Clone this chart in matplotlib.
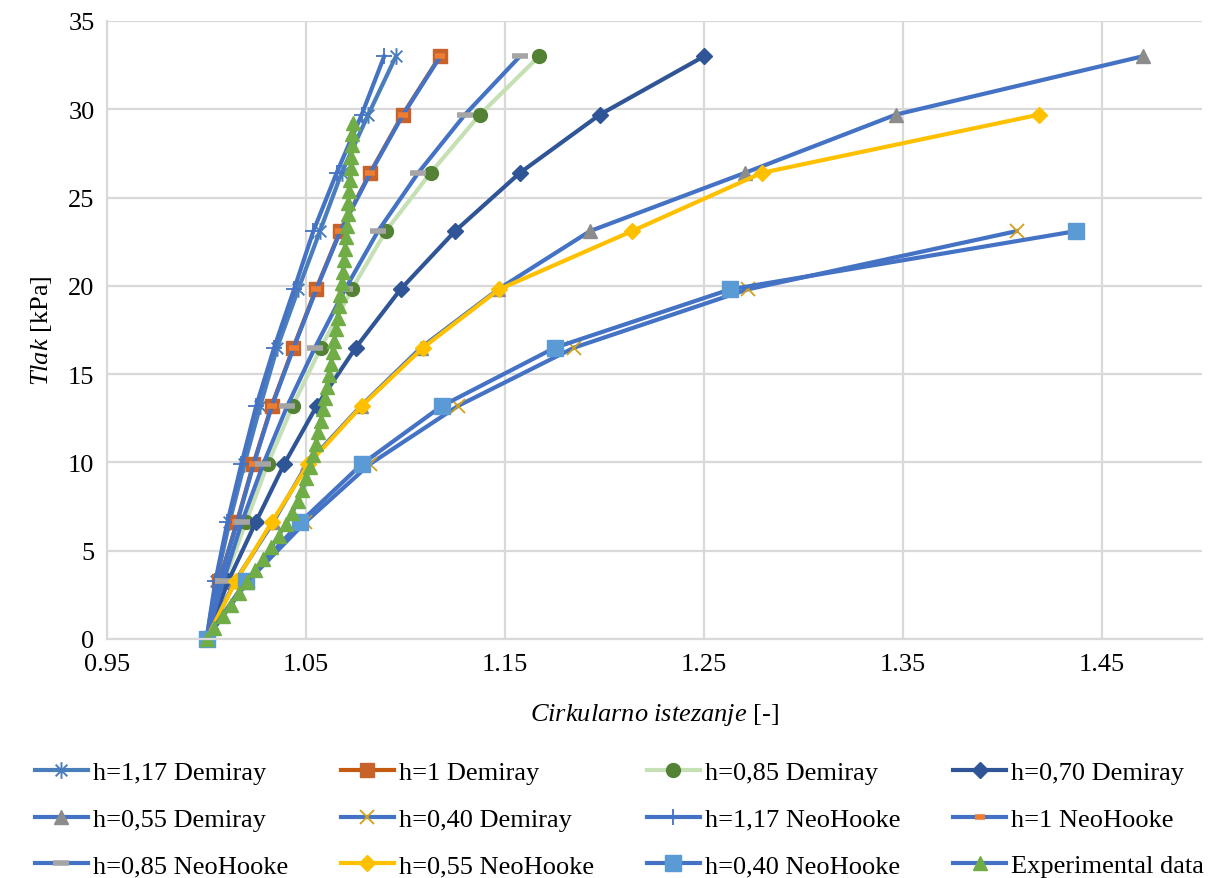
import matplotlib
matplotlib.use("Agg")
import matplotlib.pyplot as plt
from matplotlib.path import Path

plt.rcParams['font.family'] = ['Liberation Serif', 'DejaVu Serif']
plt.rcParams['mathtext.fontset'] = 'custom'
plt.rcParams['mathtext.it'] = 'Liberation Serif:italic'
plt.rcParams['mathtext.rm'] = 'Liberation Serif'

# Pressure levels of the model curves (kPa)
p_model = [0, 3.3, 6.6, 9.9, 13.2, 16.5, 19.8, 23.1, 26.4, 29.7, 33.0]

# Circumferential stretch for each model series
dem_117 = [1.0, 1.0050, 1.0115, 1.0190, 1.0270, 1.0355, 1.0461, 1.0570, 1.0679, 1.0813, 1.0952]
dem_100 = [1.0, 1.0065, 1.0152, 1.0235, 1.0327, 1.0436, 1.0550, 1.0671, 1.0822, 1.0986, 1.1173]
dem_085 = [1.0, 1.0090, 1.0198, 1.0307, 1.0433, 1.0575, 1.0730, 1.0901, 1.1126, 1.1374, 1.1671]
dem_070 = [1.0, 1.0110, 1.0247, 1.0390, 1.0554, 1.0750, 1.0975, 1.1249, 1.1575, 1.1977, 1.2500]
dem_055 = [1.0, 1.0145, 1.0334, 1.0505, 1.0776, 1.1078, 1.1465, 1.1927, 1.2706, 1.3465, 1.4704]
dem_040 = [1.0, 1.0210, 1.0495, 1.0820, 1.1264, 1.1847, 1.2719, 1.4071]
neo_117 = [1.0, 1.0045, 1.0105, 1.0175, 1.0250, 1.0340, 1.0440, 1.0537, 1.0654, 1.0780, 1.0893]
neo_100 = [1.0, 1.0066, 1.0154, 1.0237, 1.0329, 1.0438, 1.0552, 1.0673, 1.0824, 1.0988, 1.1175]
neo_085 = [1.0, 1.0085, 1.0177, 1.0285, 1.0406, 1.0545, 1.0696, 1.0862, 1.1064, 1.1299, 1.1575]
neo_055 = [1.0, 1.0148, 1.0327, 1.0512, 1.0780, 1.1088, 1.1470, 1.2138, 1.2791, 1.4185]
neo_040 = [1.0, 1.0198, 1.0470, 1.0780, 1.1183, 1.1751, 1.2631, 1.4369]

# Experimental data
p_exp = [0.00, 0.65, 1.30, 1.95, 2.60, 3.25, 3.90, 4.55, 5.20, 5.85, 6.50, 7.15,
         7.80, 8.45, 9.10, 9.75, 10.40, 11.05, 11.70, 12.35, 13.00, 13.65, 14.30,
         14.95, 15.60, 16.25, 16.90, 17.55, 18.20, 18.85, 19.50, 20.15, 20.80,
         21.45, 22.10, 22.75, 23.40, 24.05, 24.70, 25.35, 26.00, 26.65, 27.30,
         27.95, 28.60, 29.25]
x_exp = [1.0000, 1.0040, 1.0081, 1.0122, 1.0163, 1.0204, 1.0245, 1.0285, 1.0325,
         1.0362, 1.0398, 1.0430, 1.0458, 1.0482, 1.0502, 1.0519, 1.0534, 1.0548,
         1.0561, 1.0573, 1.0585, 1.0596, 1.0606, 1.0616, 1.0625, 1.0634, 1.0643,
         1.0651, 1.0659, 1.0666, 1.0673, 1.0679, 1.0685, 1.0690, 1.0695, 1.0700,
         1.0705, 1.0709, 1.0713, 1.0717, 1.0721, 1.0724, 1.0727, 1.0730, 1.0733,
         1.0735]

labels = ["h=1,17 Demiray", "h=1 Demiray", "h=0,85 Demiray", "h=0,70 Demiray",
          "h=0,55 Demiray", "h=0,40 Demiray", "h=1,17 NeoHooke", "h=1 NeoHooke",
          "h=0,85 NeoHooke", "h=0,55 NeoHooke", "h=0,40 NeoHooke", "Experimental data"]

# Excel-style asterisk: X plus vertical bar
ast = Path([(-0.7, -0.7), (0.7, 0.7), (-0.7, 0.7), (0.7, -0.7), (0, -1), (0, 1)],
           [Path.MOVETO, Path.LINETO, Path.MOVETO, Path.LINETO, Path.MOVETO, Path.LINETO])

BLUE = '#4472C4'
series = [
    (dem_117, p_model, dict(color='#4A7EBB', marker=ast, ms=12, mew=1.4, mfc='#4A7EBB', mec='#4A7EBB')),
    (dem_100, p_model, dict(color='#C55A11', marker='s', ms=10, mfc='#C8622B', mec='#C8622B')),
    (dem_085, p_model, dict(color='#C5E0B4', marker='o', ms=10, mfc='#548235', mec='#548235')),
    (dem_070, p_model, dict(color='#2F5597', marker='D', ms=8, mfc='#2F5597', mec='#2F5597')),
    (dem_055, p_model, dict(color=BLUE, marker='^', ms=10, mfc='#8C8C8C', mec='#8C8C8C')),
    (dem_040, p_model[:8], dict(color=BLUE, marker='x', ms=10, mew=1.3, mfc='#D4A017', mec='#D4A017')),
    (neo_117, p_model, dict(color=BLUE, marker='+', ms=12, mew=1.3, mfc=BLUE, mec=BLUE)),
    (neo_100, p_model, dict(color=BLUE, marker='_', ms=7, mew=4, mfc='#ED7D31', mec='#ED7D31')),
    (neo_085, p_model, dict(color=BLUE, marker='_', ms=11, mew=4, mfc='#A5A5A5', mec='#A5A5A5')),
    (neo_055, p_model[:10], dict(color='#FFC000', marker='D', ms=8, mfc='#FFC000', mec='#FFC000')),
    (neo_040, p_model[:8], dict(color=BLUE, marker='s', ms=11, mfc='#5B9BD5', mec='#5B9BD5')),
    (x_exp, p_exp, dict(color=BLUE, marker='^', ms=10, mfc='#70AD47', mec='#70AD47')),
]

fig = plt.figure(figsize=(12.17, 8.79), dpi=100)
ax = fig.add_axes([107/1217, 1-640/879, (1201.5-107)/1217, (640-22)/879])

handles = []
for (xs, ys, st), lab in zip(series, labels):
    h, = ax.plot(xs, ys, lw=3, label=lab, clip_on=False, **st)
    handles.append(h)

ax.set_xlim(0.95, 1.5)
ax.set_ylim(0, 35)
ax.set_xticks([0.95, 1.05, 1.15, 1.25, 1.35, 1.45])
ax.set_xticklabels(["0.95", "1.05", "1.15", "1.25", "1.35", "1.45"])
ax.set_yticks(range(0, 36, 5))
ax.tick_params(axis='both', length=0, labelsize=19, colors='#000000')
ax.tick_params(axis='y', pad=9)
ax.tick_params(axis='x', pad=10)
ax.grid(True, color='#D9D9D9', lw=1.6)
ax.set_axisbelow(True)
for s in ['top', 'right']:
    ax.spines[s].set_visible(False)
for s in ['left', 'bottom']:
    ax.spines[s].set_color('#D9D9D9')
    ax.spines[s].set_linewidth(1.6)

ax.set_xlabel(r'$\it{Cirkularno\ istezanje}$ [-]', fontsize=19, labelpad=19)
ax.set_ylabel(r'$\it{Tlak}$ [kPa]', fontsize=19, labelpad=10)

order = [0, 4, 8, 1, 5, 9, 2, 6, 10, 3, 7, 11]
fig.legend([handles[i] for i in order], [labels[i] for i in order],
           ncol=4, loc='center', bbox_to_anchor=(0.509, 0.067), frameon=False,
           fontsize=19, handlelength=2.0, handletextpad=0.2, columnspacing=2.0,
           labelspacing=0.87, borderpad=0.1)

fig.savefig('out.png', dpi=100)
